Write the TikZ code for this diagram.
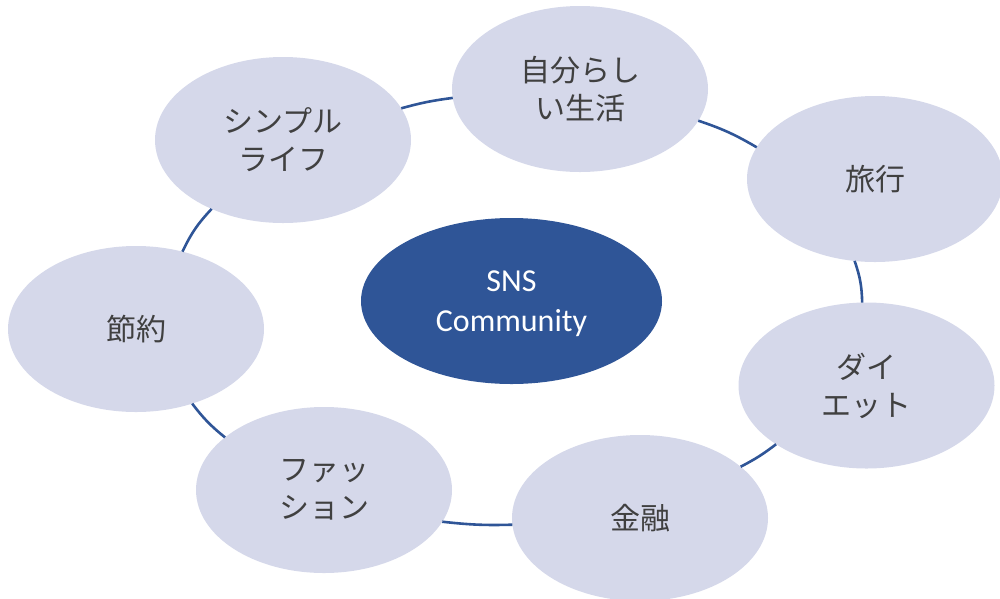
\documentclass[tikz,border=0pt]{standalone}
\usepackage{fontspec}
\setmainfont{Carlito}
\newfontfamily\jpfont{Noto Sans CJK JP}
\usetikzlibrary{shapes.geometric}
\definecolor{outerfill}{HTML}{D5D8EA}
\definecolor{mainblue}{HTML}{2F5597}
\definecolor{txtgray}{HTML}{404040}
\begin{document}
\begin{tikzpicture}[x=1pt,y=-1pt,
  topic/.style={ellipse, fill=outerfill, minimum width=256pt, minimum height=166pt,
    inner sep=0pt, outer sep=0pt, font=\jpfont\fontsize{30}{38}\selectfont,
    text=txtgray, align=center},
  hub/.style={ellipse, fill=mainblue, minimum width=301pt, minimum height=166pt,
    inner sep=0pt, outer sep=0pt, font=\fontsize{32}{40}\selectfont,
    text=white, align=center, text depth=0pt},
  link/.style={draw=mainblue, line width=2.6pt}]
\useasboundingbox (0,0) rectangle (1000,598);
\node[hub] (hub) at (511.5,301) {SNS\\Community};
\node[topic] (a) at (580,89) {自分らし\\い生活};
\node[topic] (b) at (875,179) {旅行};
\node[topic] (c) at (866.5,385.5) {ダイ\\エット};
\node[topic] (d) at (640,518) {金融};
\node[topic] (e) at (324,490) {ファッ\\ション};
\node[topic] (f) at (136,329) {節約};
\node[topic] (g) at (283,140) {シンプル\\ライフ};
\draw[link] (g.15) to[bend left=4] (a.184);
\draw[link] (a.-15) to[bend left=6] (b.165);
\draw[link] (b.256) to[bend left=9] (c.93);
\draw[link] (c.213) to[bend left=5] (d.27);
\draw[link] (d.183) to[bend left=4] (e.-15.5);
\draw[link] (e.152) to[bend left=7] (f.-53);
\draw[link] (f.59.5) to[bend left=9] (g.224.5);
\end{tikzpicture}
\end{document}
